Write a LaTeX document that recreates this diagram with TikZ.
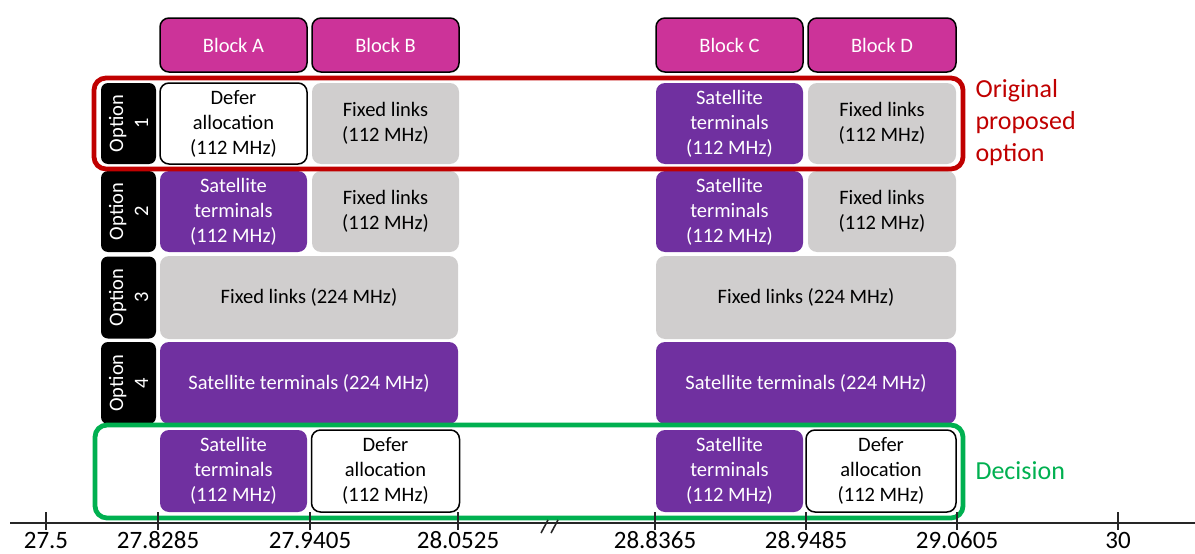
\documentclass[tikz,border=0pt]{standalone}
\usepackage{fontspec}
\setmainfont{Carlito}
\definecolor{magblk}{HTML}{CC3399}
\definecolor{purp}{HTML}{7030A0}
\definecolor{grayb}{HTML}{D0CECE}
\definecolor{redc}{HTML}{C00000}
\definecolor{greenc}{HTML}{00B050}
\tikzset{
  cell/.style={rounded corners=9pt, inner sep=0pt, align=center,
    font=\fontsize{20.5}{25}\selectfont},
  hdr/.style={cell, fill=magblk, draw=black, line width=1.5pt, text=white, minimum height=54pt},
  sat/.style={cell, fill=purp, text=white},
  fix/.style={cell, fill=grayb, text=black},
  defer/.style={cell, fill=white, draw=black, line width=1.5pt, text=black},
  optlbl/.style={cell, fill=black, text=white, rotate=90, minimum height=55pt, rounded corners=7pt},
  frame/.style={rounded corners=12pt, line width=4.8pt},
  side/.style={align=left, anchor=west, font=\fontsize{26}{32}\selectfont},
  tick/.style={line width=1.4pt, black!85},
  axlbl/.style={font=\fontsize{25}{28}\selectfont, inner sep=0pt},
}
\begin{document}
\begin{tikzpicture}[x=1pt,y=-1pt]
\useasboundingbox (0,0) rectangle (1195,554);
% headers
\node[hdr, minimum width=147pt] (hA) at (233.5,45) {Block A};
\node[hdr, minimum width=147pt] (hB) at (385.5,45) {Block B};
\node[hdr, minimum width=147pt] (hC) at (729.5,45) {Block C};
\node[hdr, minimum width=148pt] (hD) at (882,45) {Block D};
% option labels
\node[optlbl, minimum width=81pt] (o1) at (128.5,123.5) {Option\\1};
\node[optlbl, minimum width=81pt] (o2) at (128.5,211.5) {Option\\2};
\node[optlbl, minimum width=82pt] (o3) at (128.5,297.5) {Option\\3};
\node[optlbl, minimum width=82pt] (o4) at (128.5,383) {Option\\4};
% row 1
\node[defer, minimum width=147pt, minimum height=81pt] (a1) at (233.5,123.5) {Defer\\allocation\\(112 MHz)};
\node[fix, minimum width=147pt, minimum height=81pt] (b1) at (385.5,123.5) {Fixed links\\(112 MHz)};
\node[sat, minimum width=147pt, minimum height=81pt] (c1) at (729.5,123.5) {Satellite\\terminals\\(112 MHz)};
\node[fix, minimum width=148pt, minimum height=81pt] (d1) at (882,123.5) {Fixed links\\(112 MHz)};
% row 2
\node[sat, minimum width=147pt, minimum height=81pt] (a2) at (233.5,211.5) {Satellite\\terminals\\(112 MHz)};
\node[fix, minimum width=147pt, minimum height=81pt] (b2) at (385.5,211.5) {Fixed links\\(112 MHz)};
\node[sat, minimum width=147pt, minimum height=81pt] (c2) at (729.5,211.5) {Satellite\\terminals\\(112 MHz)};
\node[fix, minimum width=148pt, minimum height=81pt] (d2) at (882,211.5) {Fixed links\\(112 MHz)};
% row 3
\node[fix, minimum width=298pt, minimum height=83pt] (ab3) at (309,297.5) {Fixed links (224 MHz)};
\node[fix, minimum width=300pt, minimum height=83pt] (cd3) at (806,297.5) {Fixed links (224 MHz)};
% row 4
\node[sat, minimum width=298pt, minimum height=82pt] (ab4) at (309,383) {Satellite terminals (224 MHz)};
\node[sat, minimum width=300pt, minimum height=82pt] (cd4) at (806,383) {Satellite terminals (224 MHz)};
% decision row
\node[sat, minimum width=147pt, minimum height=82pt] (a5) at (233.5,471) {Satellite\\terminals\\(112 MHz)};
\node[defer, minimum width=148pt, minimum height=82pt] (b5) at (385.5,471) {Defer\\allocation\\(112 MHz)};
\node[sat, minimum width=147pt, minimum height=82pt] (c5) at (729.5,471) {Satellite\\terminals\\(112 MHz)};
\node[defer, minimum width=150pt, minimum height=82pt] (d5) at (881,471) {Defer\\allocation\\(112 MHz)};
% frames
\draw[frame, redc] (94,78) rectangle (963,169);
\draw[frame, greenc] (95,425) rectangle (963,518);
\node[side, text=redc] (orig) at (972,123) {Original\\proposed\\option};
\node[side, text=greenc] (dec) at (972,471) {Decision};
% axis
\coordinate (ax0) at (10,523);
\coordinate (ax1) at (1195,523);
\draw[tick] (ax0) -- (ax1);
\foreach \xx/\lab [count=\i] in {46/27.5, 158/27.8285, 310/27.9405, 458/28.0525, 655/28.8365, 806/28.9485, 957/29.0605, 1118/30}{
  \draw[tick] (\xx,512) -- (\xx,530);
  \node[axlbl] (lab\i) at (\xx,540.5) {\lab};
}
% break mark
\draw[line width=1.6pt, black!85] (541,533) -- (548,520);
\draw[line width=1.6pt, black!85] (551,533) -- (558,520);
\end{tikzpicture}
\end{document}
